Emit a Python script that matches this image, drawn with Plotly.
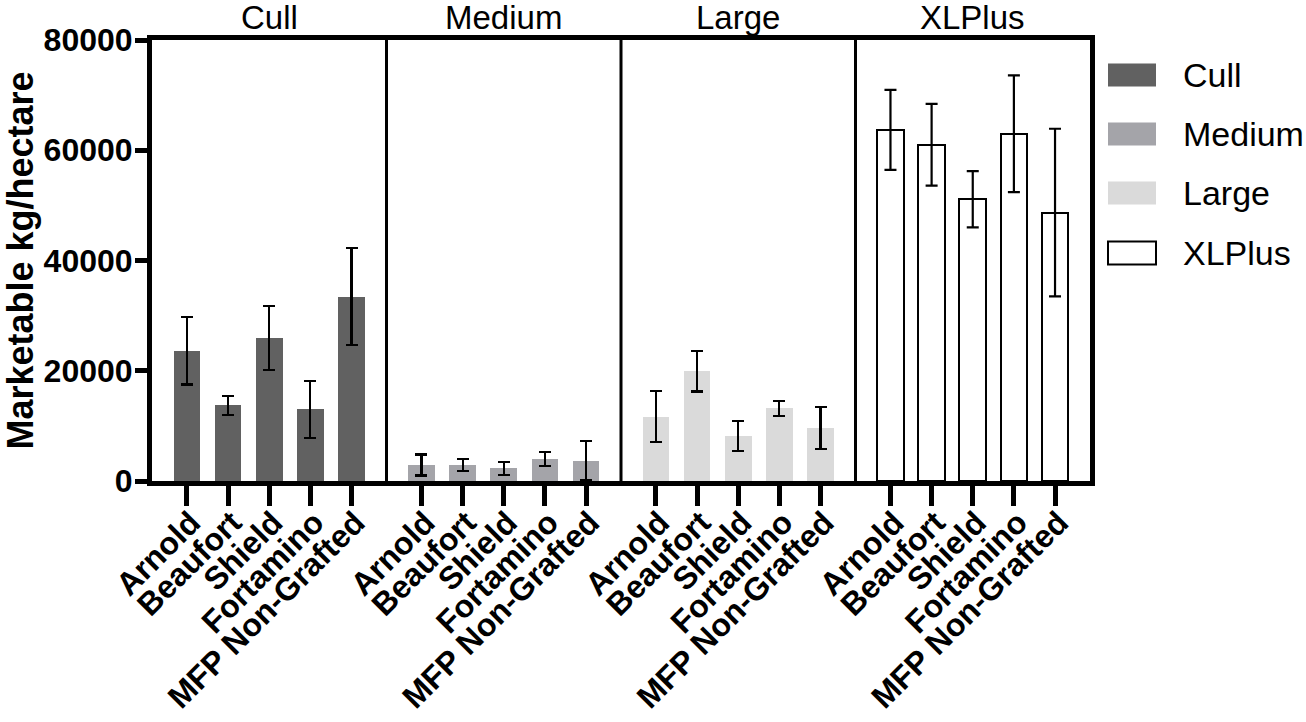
import plotly.graph_objects as go

# data
rootstocks = ["Arnold", "Beaufort", "Shield", "Fortamino", "MFP Non-Grafted"]
grades = ["Cull", "Medium", "Large", "XLPlus"]

cull = [23600, 13700, 26000, 13000, 33400]
cull_err = [6100, 1700, 5800, 5200, 8800]
medium = [2900, 2900, 2300, 3950, 3700]
medium_err = [1900, 1150, 1150, 1300, 3600]
large = [11700, 19950, 8150, 13200, 9600]
large_err = [4650, 3700, 2700, 1350, 3850]
xlplus = [63700, 61000, 51100, 63000, 48700]
xlplus_err = [7250, 7400, 5100, 10600, 15200]

fills = ["#616161", "#a4a4a9", "#dadada", "#ffffff"]
PANEL = 5.7
OFFSET = 0.85
FONT = "Arial, Liberation Sans, sans-serif"

W, H = 1306, 722
L, R, T, B = 152, 216, 40, 241
plot_w = W - L - R
plot_h = H - T - B


def px_x(page_x):
    return (page_x - L) / plot_w


def px_y(page_y):
    return (H - B - page_y) / plot_h


series = [(cull, cull_err), (medium, medium_err), (large, large_err), (xlplus, xlplus_err)]

fig = go.Figure()
tickvals, ticktext = [], []
for k, (vals, errs) in enumerate(series):
    xs = [k * PANEL + OFFSET + i for i in range(len(rootstocks))]
    tickvals += xs
    ticktext += rootstocks
    fig.add_trace(
        go.Bar(
            name=grades[k],
            x=xs,
            y=vals,
            width=0.65,
            marker=dict(
                color=fills[k],
                line=dict(color="black", width=2 if grades[k] == "XLPlus" else 0),
            ),
            error_y=dict(type="data", array=errs, color="black", thickness=2.2, width=6),
            showlegend=False,
        )
    )
    fig.add_annotation(
        x=k * PANEL + PANEL / 2, y=1, xref="x", yref="paper",
        yanchor="bottom", yshift=2, showarrow=False,
        text=grades[k], font=dict(family=FONT, size=33, color="black"),
    )
    if k > 0:
        fig.add_shape(
            type="line", x0=k * PANEL, x1=k * PANEL, y0=0, y1=1,
            xref="x", yref="paper", line=dict(color="black", width=3),
        )

# hand-made legend with wide swatches
legend_y = [75, 134, 193, 253]
for k, g in enumerate(grades):
    yc = px_y(legend_y[k])
    fig.add_shape(
        type="rect", xref="paper", yref="paper",
        x0=px_x(1108), x1=px_x(1156), y0=yc - 11.5 / plot_h, y1=yc + 11.5 / plot_h,
        fillcolor=fills[k],
        line=dict(color="black", width=2 if g == "XLPlus" else 0),
    )
    fig.add_annotation(
        x=px_x(1181), y=yc, xref="paper", yref="paper",
        xanchor="left", yanchor="middle",
        showarrow=False, text=g, font=dict(family=FONT, size=34, color="black"),
    )

fig.update_layout(
    width=W, height=H,
    margin=dict(l=L, r=R, t=T, b=B),
    plot_bgcolor="white", paper_bgcolor="white",
    bargap=0, barmode="overlay",
    font=dict(family=FONT, color="black"),
)
fig.update_xaxes(
    range=[0, PANEL * len(grades)], automargin=False,
    tickvals=tickvals, ticktext=ticktext, tickangle=-45,
    ticklabelstandoff=-15, ticklabelshift=4,
    ticks="outside", ticklen=20, tickwidth=5, tickcolor="black",
    tickfont=dict(family=FONT, size=32, color="black", weight="bold"),
    showline=True, linewidth=5, linecolor="black", mirror=True,
    showgrid=False, zeroline=False,
)
fig.update_yaxes(
    range=[0, 80000], tickvals=[0, 20000, 40000, 60000, 80000], tickformat="d",
    automargin=False, ticklabelstandoff=-4,
    ticks="outside", ticklen=12, tickwidth=5, tickcolor="black",
    tickfont=dict(family=FONT, size=32, color="black", weight="bold"),
    showline=True, linewidth=5, linecolor="black", mirror=True,
    showgrid=False, zeroline=False,
    title=dict(text="Marketable kg/hectare", standoff=10,
               font=dict(family=FONT, size=36, color="black", weight="bold")),
)

# drop the default page margin so the figure fills the window exactly
fig.write_html(
    "out.html",
    config={"displayModeBar": False},
    post_script="document.body.style.margin='0';document.body.style.overflow='hidden';",
)
